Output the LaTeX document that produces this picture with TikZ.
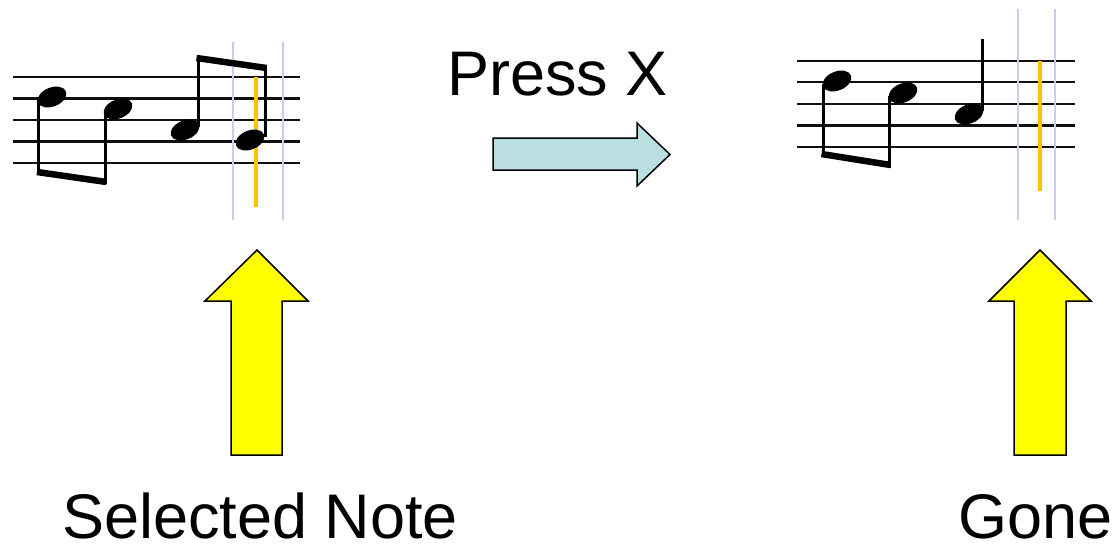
\documentclass[tikz,border=0pt]{standalone}
\usepackage{fontspec}
\setmainfont{Liberation Sans}
\definecolor{staffc}{HTML}{101010}
\definecolor{barblue}{HTML}{C8CDF0}
\definecolor{selorange}{HTML}{FFC000}
\definecolor{pressfill}{HTML}{B9DFE1}
\definecolor{yel}{HTML}{FFFF00}
\tikzset{
  staffline/.style={draw=staffc, line width=2.3pt},
  stem/.style={draw=black, line width=3pt},
  beam/.style={draw=black, line width=6.5pt},
  notehead/.style={fill=black},
  barline/.style={draw=barblue, line width=2pt},
  cursor/.style={draw=selorange, line width=4.5pt},
  blockarrow/.style={draw=black, line width=1.5pt, line join=miter},
  label/.style={font=\fontsize{63}{63}\selectfont, inner sep=0pt, text depth=0pt, anchor=base west}
}
\begin{document}
\begin{tikzpicture}[x=1pt,y=-1pt]
\useasboundingbox (0,0) rectangle (1120,552);
% ---------- left staff ----------
\foreach \yy in {77,98.5,120,141.5,163}
  \draw[staffline] (13,\yy) -- (300,\yy);
\draw[barline] (233,42) -- (233,220);
\draw[barline] (283,42) -- (283,220);
\draw[cursor] (256,77) -- (256,207);
% notes
\fill[notehead, rotate around={22:(52,97)}] (52,97) ellipse [x radius=15, y radius=9.5];
\fill[notehead, rotate around={22:(118,109)}] (118,109) ellipse [x radius=15, y radius=9.5];
\fill[notehead, rotate around={22:(185,130)}] (185,130) ellipse [x radius=15, y radius=9.5];
\fill[notehead, rotate around={22:(250,140)}] (250,140) ellipse [x radius=15, y radius=9.5];
\draw[stem] (38.5,100) -- (38.5,174);
\draw[stem] (105,112) -- (105,184);
\draw[beam] (37,172) -- (106.5,182);
\draw[stem] (198,127) -- (198,55);
\draw[stem] (265,137) -- (265,66);
\draw[beam] (196.5,58) -- (266.5,68);
% ---------- right staff ----------
\foreach \yy in {61,82,104,125.5,147}
  \draw[staffline] (797,\yy) -- (1075,\yy);
\draw[barline] (1018,9) -- (1018,220);
\draw[barline] (1055,9) -- (1055,220);
\draw[cursor] (1040,61) -- (1040,191);
\fill[notehead, rotate around={22:(837,81)}] (837,81) ellipse [x radius=15, y radius=9.5];
\fill[notehead, rotate around={22:(903,93)}] (903,93) ellipse [x radius=15, y radius=9.5];
\fill[notehead, rotate around={22:(969,114)}] (969,114) ellipse [x radius=15, y radius=9.5];
\draw[stem] (823,84) -- (823,157);
\draw[stem] (889,96) -- (889,168);
\draw[beam] (821.5,154) -- (890.5,165);
\draw[stem] (982,111) -- (982,39);
% ---------- Press X arrow ----------
\draw[blockarrow, fill=pressfill] (493,138) -- (637,138) -- (637,123) -- (670,154.5)
  -- (637,186) -- (637,170) -- (493,170) -- cycle;
% ---------- yellow arrows ----------
\draw[blockarrow, fill=yel] (231,455) -- (231,301) -- (205,301) -- (257,250)
  -- (308,301) -- (282,301) -- (282,455) -- cycle;
\draw[blockarrow, fill=yel] (1014,455) -- (1014,301) -- (989,301) -- (1040,250)
  -- (1091,301) -- (1066,301) -- (1066,455) -- cycle;
% ---------- labels ----------
\node[label] (press) at (447,95) {Press X};
\node[label] (selected) at (62,538) {Selected Note};
\node[label] (gone) at (958,538) {Gone};
\end{tikzpicture}
\end{document}
